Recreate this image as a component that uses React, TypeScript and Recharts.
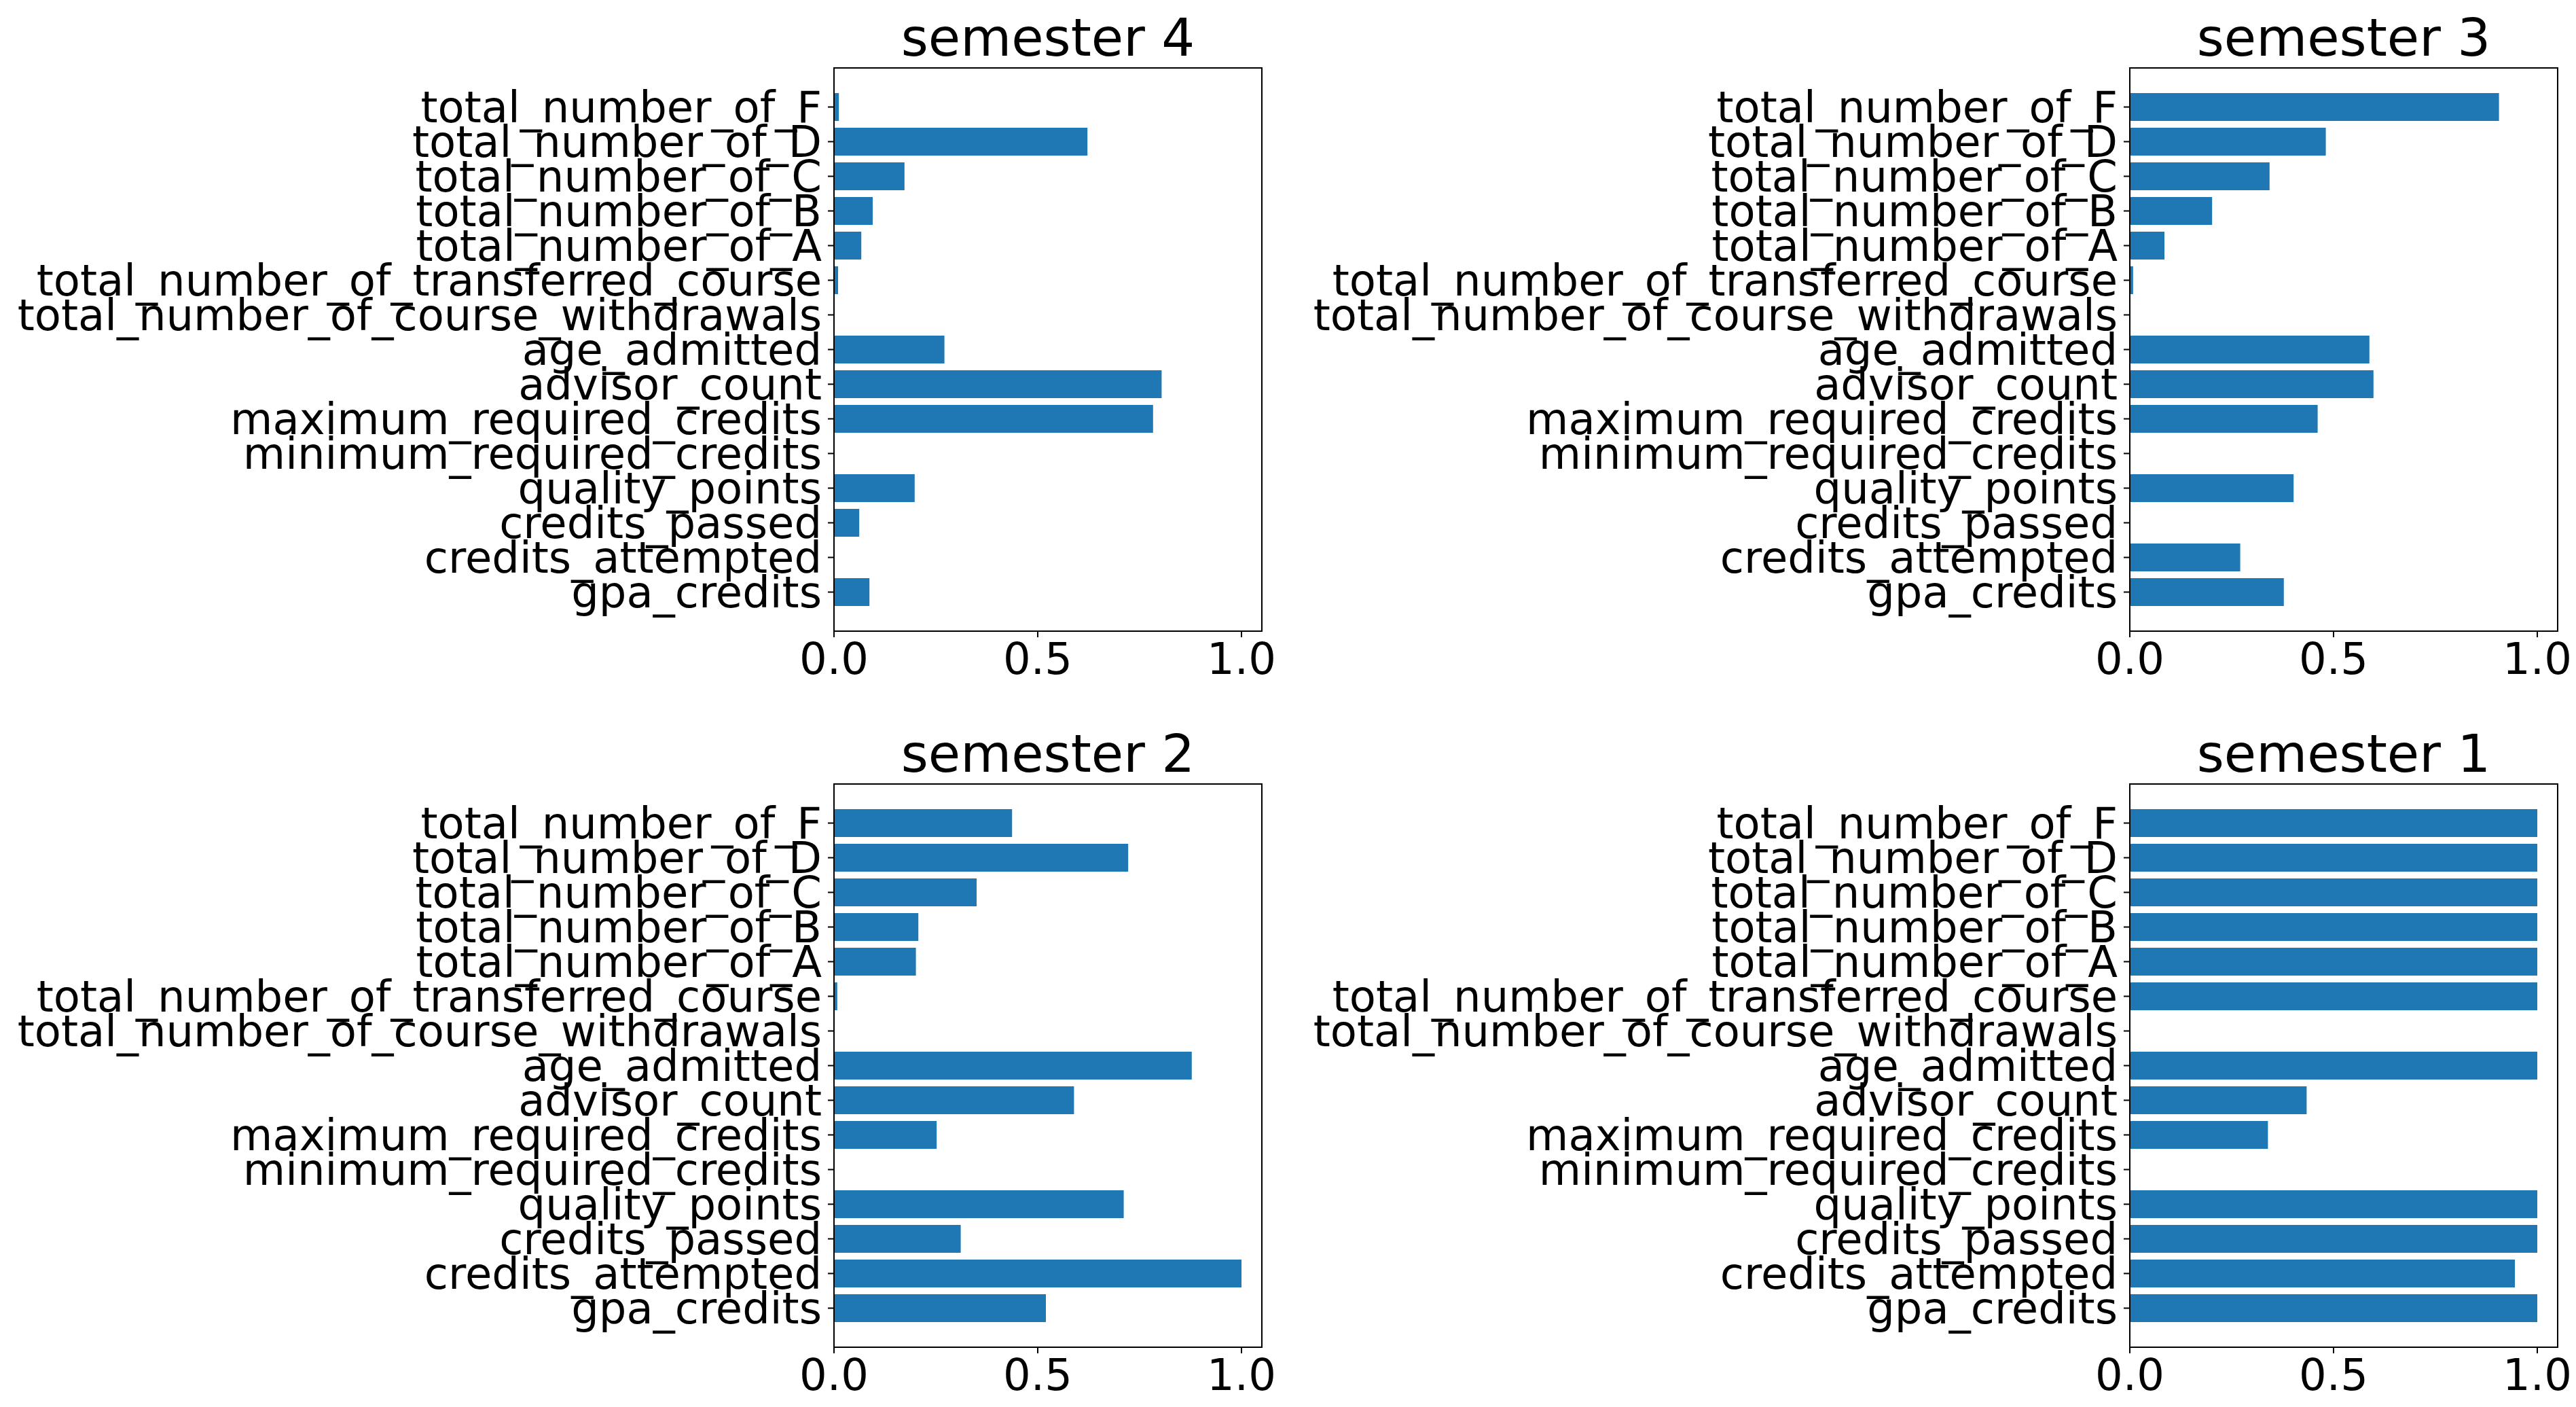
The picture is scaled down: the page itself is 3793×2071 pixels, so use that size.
import React from "react";
import * as R from "recharts";
import { Bar, BarChart, XAxis, YAxis } from "recharts";

// feature names, bottom to top (matplotlib barh order)
const categories = [
  "gpa_credits",
  "credits_attempted",
  "credits_passed",
  "quality_points",
  "minimum_required_credits",
  "maximum_required_credits",
  "advisor_count",
  "age_admitted",
  "total_number_of_course_withdrawals",
  "total_number_of_transferred_course",
  "total_number_of_A",
  "total_number_of_B",
  "total_number_of_C",
  "total_number_of_D",
  "total_number_of_F",
];

const semester4 = [0.087, 0, 0.062, 0.198, 0, 0.783, 0.804, 0.271, 0, 0.01, 0.067, 0.095, 0.173, 0.622, 0.012];
const semester3 = [0.378, 0.271, 0, 0.402, 0, 0.461, 0.598, 0.588, 0, 0.008, 0.085, 0.202, 0.343, 0.481, 0.906];
const semester2 = [0.52, 1.0, 0.311, 0.711, 0, 0.252, 0.589, 0.878, 0, 0.008, 0.201, 0.207, 0.35, 0.722, 0.437];
const semester1 = [1.0, 0.945, 1.0, 1.0, 0, 0.339, 0.434, 1.0, 0, 1.0, 1.0, 1.0, 1.0, 1.0, 1.0];

const xTicks = [0, 0.5, 1.0];

const FONT = "'DejaVu Sans', Verdana, sans-serif";
const BLUE = "#1f77b4";
const line = { stroke: "#000", strokeWidth: 2 };

const lib = R as any;

// box around the plot area (matplotlib draws all four spines)
const Frame = () => {
  if (lib.usePlotArea) {
    const area = lib.usePlotArea();
    if (!area) return null;
    return <rect x={area.x} y={area.y} width={area.width} height={area.height} fill="none" stroke="#000" strokeWidth={2} />;
  }
  const off = lib.useOffset();
  const w = lib.useChartWidth();
  const h = lib.useChartHeight();
  if (!off || !w || !h) return null;
  return (
    <rect
      x={off.left}
      y={off.top}
      width={w - off.left - off.right}
      height={h - off.top - off.bottom}
      fill="none"
      stroke="#000"
      strokeWidth={2}
    />
  );
};

type PanelProps = {
  title: string;
  values: number[];
  left: number;
  top: number;
  width: number;
  height: number;
  axisWidth: number;
  rightMargin: number;
  bottomAxis: number;
};

const Panel = ({ title, values, left, top, width, height, axisWidth, rightMargin, bottomAxis }: PanelProps) => {
  const rows = categories.map((name, i) => ({ name, value: values[i] }));
  const plotWidth = width - axisWidth - rightMargin;
  return (
    <div style={{ position: "absolute", left, top, width, height }}>
      <div
        style={{
          position: "absolute",
          left: axisWidth,
          top: 17,
          width: plotWidth,
          textAlign: "center",
          fontFamily: FONT,
          fontSize: 77,
          lineHeight: 1,
          color: "#000",
          whiteSpace: "nowrap",
        }}
      >
        {title}
      </div>
      <BarChart
        width={width}
        height={height}
        data={rows}
        layout="vertical"
        barSize={41}
        margin={{ top: 100, right: rightMargin, bottom: 0, left: 0 }}
      >
        <XAxis
          type="number"
          domain={[0, 1.05]}
          allowDataOverflow
          ticks={xTicks}
          interval={0}
          tickFormatter={(v: number) => v.toFixed(1)}
          height={bottomAxis}
          tickSize={9}
          tickMargin={9}
          axisLine={line}
          tickLine={line}
          tick={{ fontSize: 64, fill: "#000", fontFamily: FONT }}
        />
        <YAxis
          type="category"
          dataKey="name"
          reversed
          interval={0}
          width={axisWidth}
          padding={{ top: 32, bottom: 32 }}
          tickSize={9}
          tickMargin={9}
          axisLine={line}
          tickLine={line}
          tick={{ fontSize: 64, fill: "#000", fontFamily: FONT }}
        />
        <Bar dataKey="value" fill={BLUE} isAnimationActive={false} />
        <Frame />
      </BarChart>
    </div>
  );
};

export default function App() {
  return (
    <div style={{ position: "absolute", left: 0, top: 0, width: 3793, height: 2071, background: "#fff" }}>
      <Panel title="semester 4" values={semester4} left={0} top={0} width={1900} height={1029} axisWidth={1228} rightMargin={42} bottomAxis={100} />
      <Panel title="semester 3" values={semester3} left={1900} top={0} width={1893} height={1029} axisWidth={1236} rightMargin={27} bottomAxis={100} />
      <Panel title="semester 2" values={semester2} left={0} top={1054} width={1900} height={1017} axisWidth={1228} rightMargin={42} bottomAxis={88} />
      <Panel title="semester 1" values={semester1} left={1900} top={1054} width={1893} height={1017} axisWidth={1236} rightMargin={27} bottomAxis={88} />
    </div>
  );
}
